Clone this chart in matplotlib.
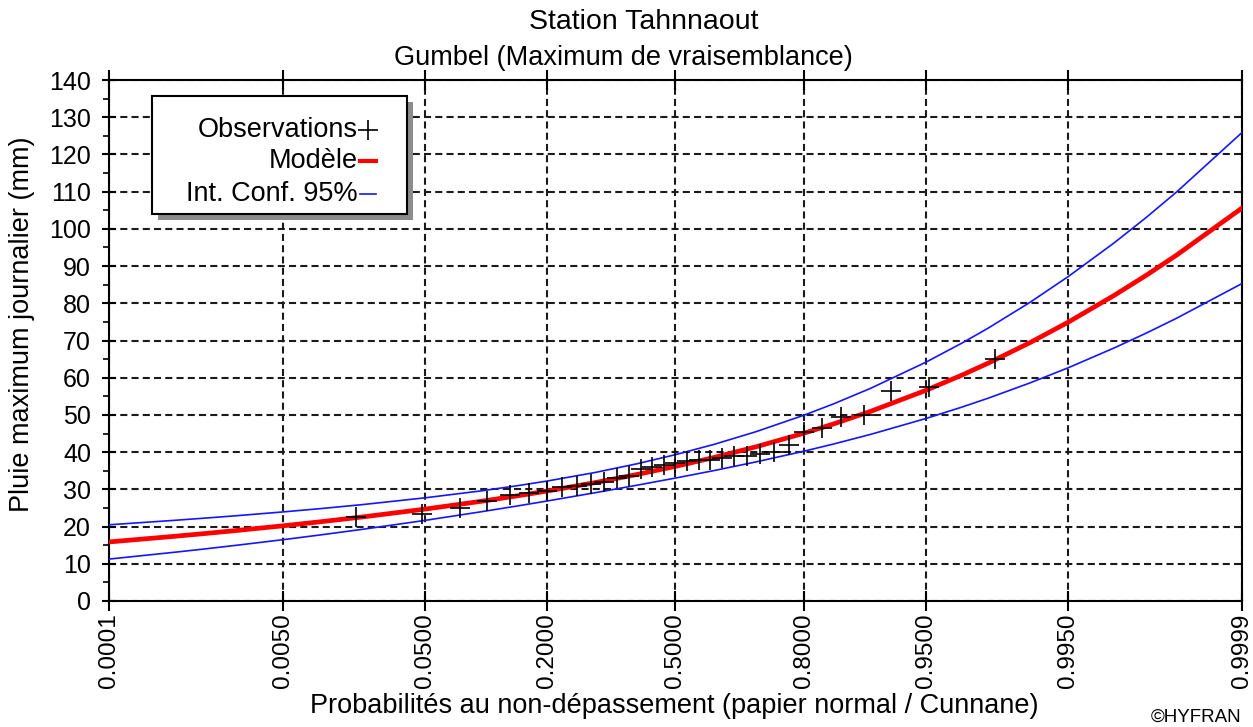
import numpy as np
import matplotlib
matplotlib.use("Agg")
import matplotlib.pyplot as plt
from matplotlib.patches import Rectangle
from matplotlib.lines import Line2D
from matplotlib.ticker import FixedLocator, FixedFormatter, MultipleLocator
from statistics import NormalDist

# ---------------- data ----------------
obs_prob = [0.0181, 0.0482, 0.0783, 0.1084, 0.1386, 0.1687, 0.1988, 0.2289, 0.2590,
            0.2892, 0.3193, 0.3494, 0.3795, 0.4096, 0.4398, 0.4699, 0.5000, 0.5301,
            0.5602, 0.5904, 0.6205, 0.6506, 0.6807, 0.7108, 0.7410, 0.7711, 0.8012,
            0.8313, 0.8614, 0.8916, 0.9217, 0.9518, 0.9819]
obs_rain = [22.5, 23.5, 25.0, 27.0, 28.5, 29.0, 29.5, 30.5, 31.0, 31.5, 32.0, 33.0,
            33.5, 35.5, 36.0, 36.5, 37.0, 37.5, 38.0, 38.0, 38.5, 39.0, 39.0, 39.5,
            40.0, 42.0, 45.5, 46.5, 49.5, 50.0, 56.5, 57.5, 65.0]

curve_prob = [0.0001, 0.0005, 0.001, 0.002, 0.005, 0.01, 0.02, 0.05, 0.1, 0.15, 0.2,
              0.3, 0.4, 0.5, 0.6, 0.7, 0.8, 0.85, 0.9, 0.95, 0.97, 0.98, 0.99, 0.995,
              0.998, 0.999, 0.9995, 0.9999]
model = [15.87, 17.38, 18.13, 18.96, 20.21, 21.31, 22.59, 24.69, 26.75, 28.27, 29.56,
         31.84, 33.99, 36.18, 38.57, 41.39, 45.07, 47.56, 50.97, 56.62, 60.71, 63.93,
         69.41, 74.87, 82.08, 87.52, 92.97, 105.60]
ci_upper = [20.48, 21.67, 22.27, 22.93, 23.94, 24.84, 25.91, 27.72, 29.56, 30.99, 32.24,
            34.56, 36.87, 39.32, 42.09, 45.44, 49.90, 52.95, 57.16, 64.19, 69.31, 73.35,
            80.23, 87.11, 96.19, 103.06, 109.94, 125.89]
ci_lower = [11.26, 13.09, 13.99, 14.99, 16.48, 17.78, 19.27, 21.66, 23.94, 25.55, 26.88,
            29.12, 31.11, 33.04, 35.05, 37.34, 40.24, 42.17, 44.78, 49.05, 52.11, 54.51,
            58.59, 62.63, 67.97, 71.98, 76.00, 85.31]

xtick_vals = [0.0001, 0.0050, 0.0500, 0.2000, 0.5000, 0.8000, 0.9500, 0.9950, 0.9999]
xtick_labels = ["0.0001", "0.0050", "0.0500", "0.2000", "0.5000", "0.8000",
                "0.9500", "0.9950", "0.9999"]
ytick_vals = list(range(0, 141, 10))

title1 = "Station Tahnnaout"
title2 = "Gumbel (Maximum de vraisemblance)"
xlabel = "Probabilités au non-dépassement (papier normal / Cunnane)"
ylabel = "Pluie maximum journalier (mm)"
legend_labels = ["Observations", "Modèle", "Int. Conf. 95%"]

# ---------------- normal probability scale ----------------
_nd = NormalDist()


def fwd(p):
    p = np.asarray(p, dtype=float)
    pc = np.clip(np.nan_to_num(p, nan=0.5), 1e-12, 1 - 1e-12)
    return np.array([_nd.inv_cdf(v) for v in pc.ravel()]).reshape(pc.shape)


def inv(z):
    z = np.asarray(z, dtype=float)
    return np.array([_nd.cdf(v) for v in np.nan_to_num(z).ravel()]).reshape(z.shape)


# ---------------- figure ----------------
W, H = 1253, 727
plt.rcParams['font.family'] = ['Liberation Sans', 'DejaVu Sans']
fig = plt.figure(figsize=(W / 100, H / 100), dpi=100, facecolor='white')


def fx(x):
    return x / W


def fy(y):
    return 1 - y / H


ax = fig.add_axes([fx(109), fy(601), fx(1242) - fx(109), fy(80) - fy(601)])
ax.set_xscale('function', functions=(fwd, inv))
ax.set_xlim(0.0001, 0.9999)
ax.set_ylim(0, 140)

ax.xaxis.set_major_locator(FixedLocator(xtick_vals))
ax.xaxis.set_major_formatter(FixedFormatter(xtick_labels))
ax.xaxis.set_minor_locator(FixedLocator([]))
ax.yaxis.set_major_locator(FixedLocator(ytick_vals))
ax.yaxis.set_minor_locator(MultipleLocator(5))

grid_kw = dict(color='#1a1a1a', linewidth=1.5, linestyle=(0, (3.4, 2.0)))
ax.grid(True, which='major', axis='both', **grid_kw)
ax.set_axisbelow(True)

for s in ax.spines.values():
    s.set_linewidth(1.5)
    s.set_color('black')

ax.tick_params(axis='x', which='major', direction='inout', length=14, width=1.5,
               labelsize=17.5, pad=2, labelrotation=90, top=True)
ax.tick_params(axis='y', which='major', direction='inout', length=10, width=1.5,
               labelsize=18, pad=8)
ax.tick_params(axis='y', which='minor', direction='out', length=4, width=1.2)
for lab in ax.get_xticklabels():
    lab.set_verticalalignment('top')

# data
ax.plot(curve_prob, ci_upper, color='#1515ff', linewidth=1.2, zorder=3)
ax.plot(curve_prob, ci_lower, color='#1515ff', linewidth=1.2, zorder=3)
ax.plot(curve_prob, model, color='#ff0000', linewidth=3.4, zorder=4)
ax.plot(obs_prob, obs_rain, linestyle='none', marker='+', markersize=14,
        markeredgewidth=1.2, color='black', zorder=5)

# titles & labels
fig.text(fx(644), fy(22), title1, ha='center', va='center', fontsize=20.5)
fig.text(fx(623), fy(58), title2, ha='center', va='center', fontsize=19.5)
fig.text(fx(674), fy(706), xlabel, ha='center', va='center', fontsize=19.5)
fig.text(fx(22), fy(324), ylabel, ha='center', va='center', rotation=90, fontsize=19.5)
fig.text(fx(1241), fy(717), "©HYFRAN", ha='right', va='center', fontsize=13.5)

# legend (manual box with shadow)
lx0, ly0, lx1, ly1 = 152, 96, 407, 214
fig.patches.append(Rectangle((fx(lx0 + 6), fy(ly1 + 6)), fx(lx1 - lx0), fy(ly0) - fy(ly1),
                             transform=fig.transFigure, facecolor='#8c8c8c',
                             edgecolor='none', zorder=10))
fig.patches.append(Rectangle((fx(lx0), fy(ly1)), fx(lx1 - lx0), fy(ly0) - fy(ly1),
                             transform=fig.transFigure, facecolor='white',
                             edgecolor='black', linewidth=1.5, zorder=11))
rows_y = [130, 161, 194]
for yy, lab in zip(rows_y, legend_labels):
    fig.text(fx(358), fy(yy), lab, ha='right', va='center', fontsize=19.5, zorder=12)
fig.lines.append(Line2D([fx(368)], [fy(rows_y[0])], transform=fig.transFigure,
                        marker='+', markersize=14, markeredgewidth=1.2,
                        color='black', linestyle='none', zorder=12))
fig.lines.append(Line2D([fx(360), fx(376)], [fy(rows_y[1])] * 2, transform=fig.transFigure,
                        color='#ff0000', linewidth=3.0, zorder=12))
fig.lines.append(Line2D([fx(360), fx(376)], [fy(rows_y[2])] * 2, transform=fig.transFigure,
                        color='#1515ff', linewidth=1.2, zorder=12))

fig.savefig("out.png", dpi=100, facecolor='white')
